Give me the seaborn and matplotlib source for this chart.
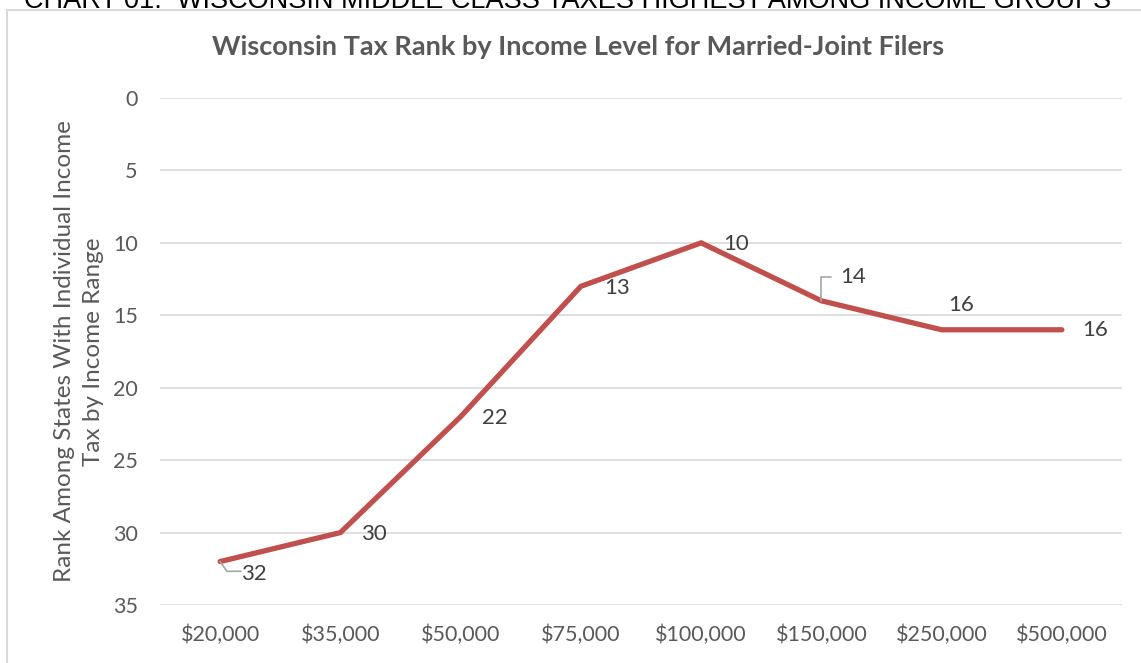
import matplotlib
matplotlib.use("Agg")
import matplotlib.pyplot as plt
from matplotlib.patches import Rectangle
import seaborn as sns
import pandas as pd

# Income brackets and Wisconsin's rank among income-tax states
income_levels = ["$20,000", "$35,000", "$50,000", "$75,000", "$100,000",
                 "$150,000", "$250,000", "$500,000"]
tax_rank = [32, 30, 22, 13, 10, 14, 16, 16]
y_ticks = [0, 5, 10, 15, 20, 25, 30, 35]

df = pd.DataFrame({"income": income_levels, "rank": tax_rank})

sns.set_theme(style="white")
plt.rcParams["font.family"] = ["Lato", "DejaVu Sans"]

GRAY_TEXT = "#595959"
LABEL_TEXT = "#404040"
GRID = "#D9D9D9"
LINE = "#C0504D"

fig = plt.figure(figsize=(11.41, 6.63), dpi=100)
ax = fig.add_axes([160 / 1141, 1 - 605 / 663, 962 / 1141, 507 / 663])

sns.lineplot(data=df, x="income", y="rank", ax=ax, color=LINE,
             linewidth=3.8, sort=False, solid_capstyle="round",
             solid_joinstyle="miter")

ax.set_xlim(-0.5, len(income_levels) - 0.5)
ax.set_ylim(35, 0)
ax.set_yticks(y_ticks)
ax.yaxis.grid(True, color=GRID, linewidth=1.2)
ax.set_axisbelow(True)
for s in ax.spines.values():
    s.set_visible(False)
ax.tick_params(axis="both", length=0, labelsize=15.5, labelcolor=GRAY_TEXT)
ax.tick_params(axis="y", pad=16)
ax.tick_params(axis="x", pad=14)
ax.set_xlabel("")
ax.set_ylabel("Rank Among States With Individual Income\nTax by Income Range",
              fontsize=17.5, color=GRAY_TEXT, labelpad=6, linespacing=1.5)

# Data labels (offsets in points)
offsets = [(24, -9), (24, -1), (25, -1), (26, -1), (25, -1), (23, 17), (14, 18), (24, 0)]
for i, (v, off) in enumerate(zip(tax_rank, offsets)):
    ax.annotate(str(v), xy=(i, v), xytext=off, textcoords="offset points",
                ha="center", va="center", fontsize=16, color=LABEL_TEXT)

# Leader lines for the $20,000 and $150,000 labels
ax.annotate("", xy=(0, 32), xytext=(15, -7), textcoords="offset points",
            arrowprops=dict(arrowstyle="-", connectionstyle="angle,angleA=0,angleB=-55,rad=0",
                            color="#A6A6A6", lw=1.2, shrinkA=0, shrinkB=0))
ax.annotate("", xy=(5, 14), xytext=(7, 17), textcoords="offset points",
            arrowprops=dict(arrowstyle="-", connectionstyle="angle,angleA=0,angleB=90,rad=0",
                            color="#A6A6A6", lw=1.2, shrinkA=0, shrinkB=0))

fig.text(578 / 1141, 1 - 47 / 663, "Wisconsin Tax Rank by Income Level for Married-Joint Filers",
         ha="center", va="center", fontsize=19.5, fontweight="bold", color=GRAY_TEXT)

fig.text(568 / 1141, 1 - 8 / 663,
         "CHART 01:  WISCONSIN MIDDLE CLASS TAXES HIGHEST AMONG INCOME GROUPS",
         ha="center", va="baseline", fontsize=19.5, color="black",
         family=["Liberation Sans", "DejaVu Sans"])

# Chart-area frame
fig.patches.append(Rectangle((7 / 1141, -0.2), 1.2, 1.2 - 10 / 663,
                             transform=fig.transFigure, fill=False,
                             edgecolor=GRID, linewidth=1.5))

fig.savefig("out.png", dpi=100)
